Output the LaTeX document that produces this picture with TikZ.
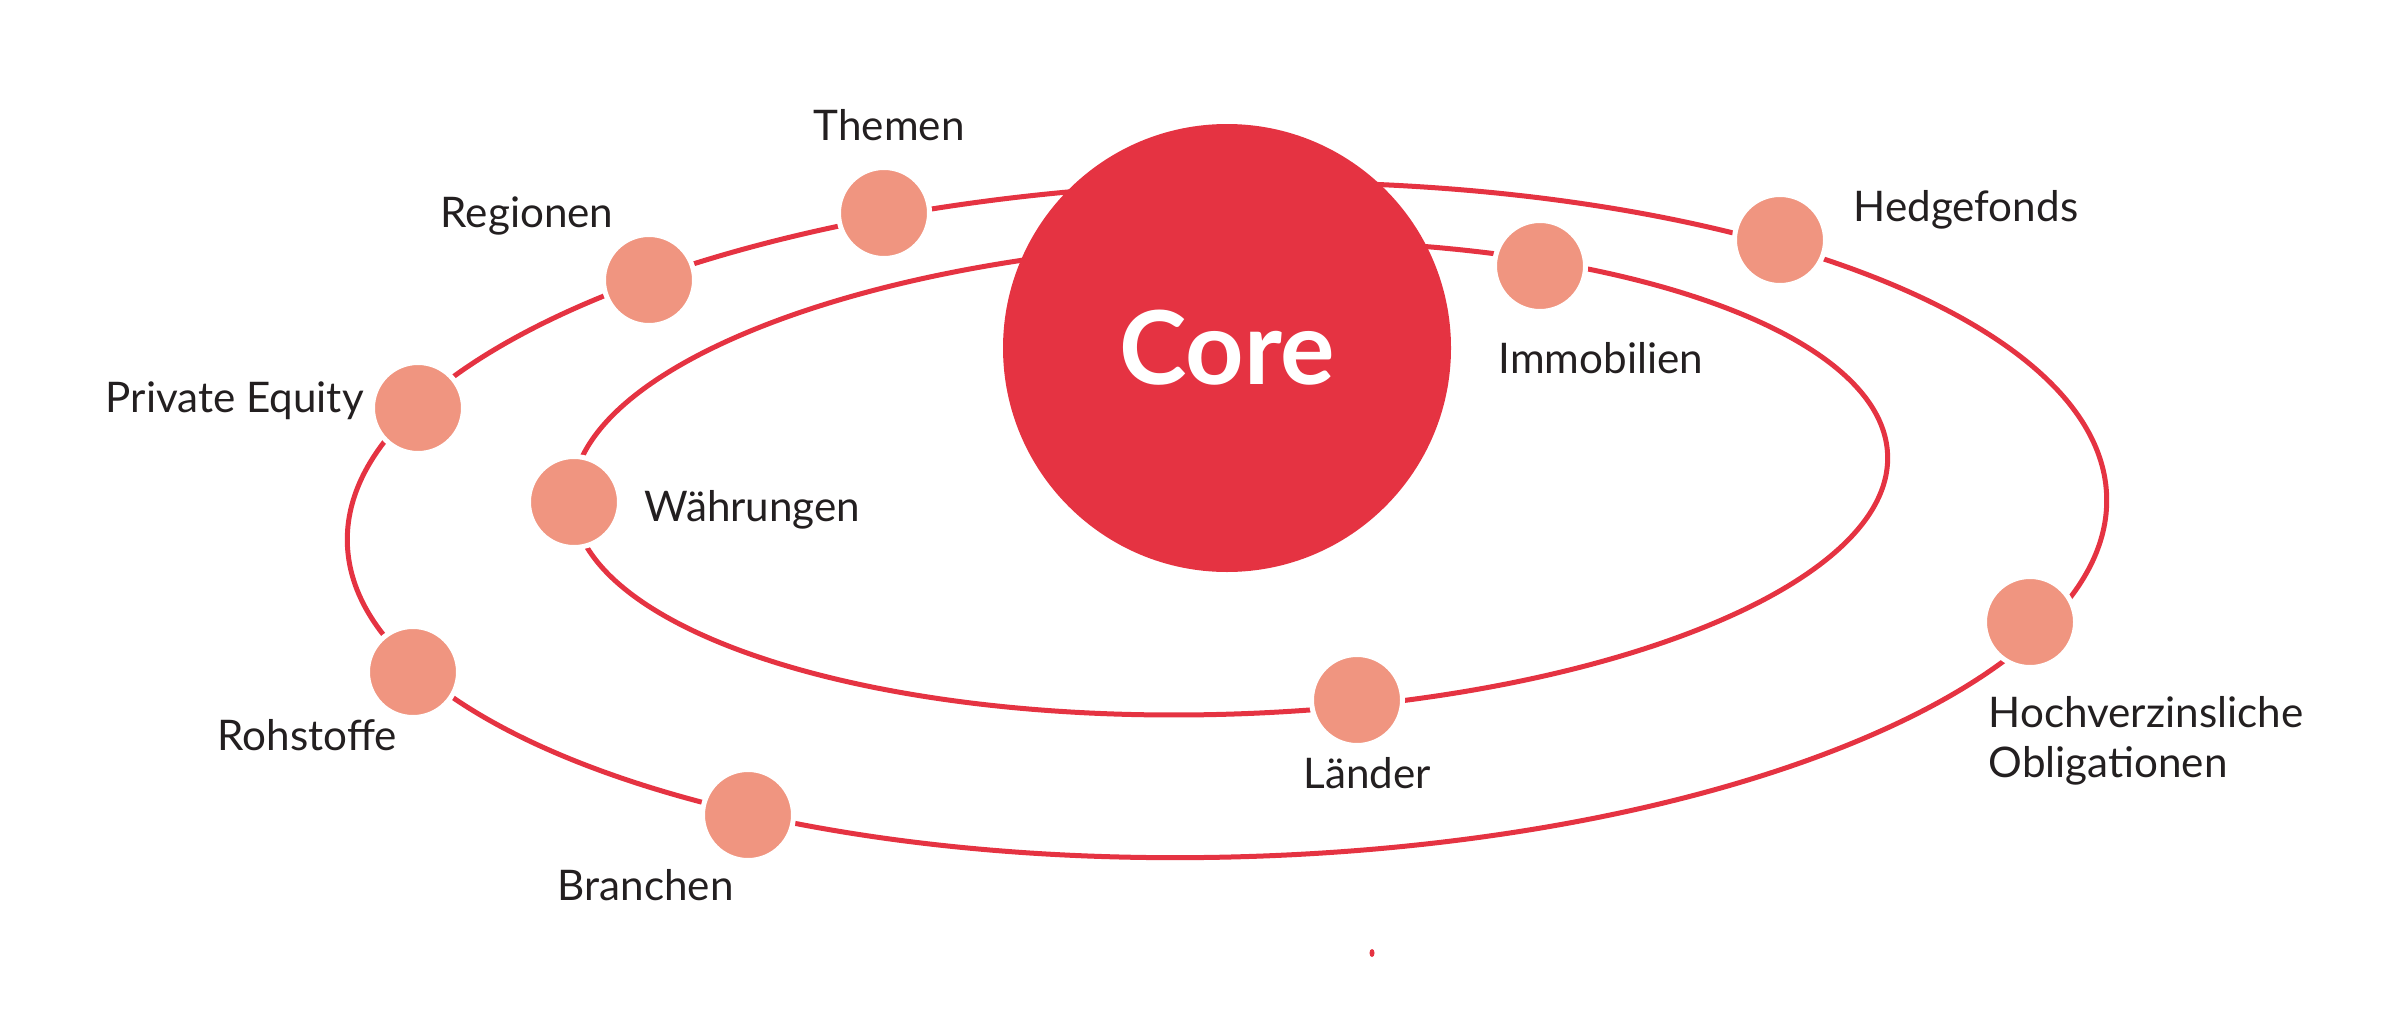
\documentclass[tikz,border=0pt]{standalone}
\usepackage[usenames, dvipsnames]{xcolor}
\usepackage{fontspec}
\setmainfont{Lato}

\definecolor{corered}{RGB}{229,51,66}
\definecolor{planetfill}{RGB}{240,149,128}
\definecolor{labeltext}{RGB}{35,31,32}

\begin{document}
\begin{tikzpicture}[
    orbit/.style={draw=corered, line width=0.5mm},
    planet/.style={circle, fill=planetfill, draw=white, line width=0.5mm, minimum size=0.91cm, inner sep=0pt},
    asset/.style={anchor=base west, inner sep=0pt, text=labeltext, font=\fontsize{12}{14.2}\selectfont},
    ]
    \useasboundingbox (0,0) rectangle (24.02,10.18);
    % the two orbits
    \draw[orbit, rotate around={1.5:(12.27,4.98)}] (12.27,4.98) ellipse [x radius=8.8, y radius=3.37];
    \draw[orbit, rotate around={2:(12.30,5.40)}] (12.30,5.40) ellipse [x radius=6.58, y radius=2.36];

    % outer orbit
    \node[planet] (themen) at (8.84,8.05) {};
    \node[planet] (regionen) at (6.49,7.38) {};
    \node[planet] (privateequity) at (4.18,6.10) {};
    \node[planet] (rohstoffe) at (4.13,3.46) {};
    \node[planet] (branchen) at (7.48,2.03) {};
    \node[planet] (hochverzinsliche) at (20.30,3.96) {};
    \node[planet] (hedgefonds) at (17.80,7.78) {};
    % inner orbit
    \node[planet] (immobilien) at (15.40,7.52) {};
    \node[planet] (waehrungen) at (5.74,5.16) {};
    \node[planet] (laender) at (13.57,3.18) {};

    \node[circle, fill=corered, minimum size=4.48cm, inner sep=0pt, text=white, font=\fontsize{29}{34}\selectfont\bfseries] (core) at (12.27,6.70) {Core};

    \node[asset] (themenlbl) at (8.13,8.77) {Themen};
    \node[asset] (regionenlbl) at (4.40,7.91) {Regionen};
    \node[asset] (privateequitylbl) at (1.05,6.06) {Private Equity};
    \node[asset] (rohstoffelbl) at (2.17,2.68) {Rohstoffe};
    \node[asset] (branchenlbl) at (5.57,1.18) {Branchen};
    \node[asset, anchor=north west, align=left] (hochverzinslichelbl) at (19.88,3.22) {Hochverzinsliche\\Obligationen};
    \node[asset] (hedgefondslbl) at (18.53,7.97) {Hedgefonds};
    \node[asset] (immobilienlbl) at (14.98,6.45) {Immobilien};
    \node[asset] (waehrungenlbl) at (6.44,4.97) {Währungen};
    \node[asset] (laenderlbl) at (13.03,2.30) {Länder};

    \fill[corered] (13.72,0.65) ellipse [x radius=0.025, y radius=0.04];
\end{tikzpicture}
\end{document}
